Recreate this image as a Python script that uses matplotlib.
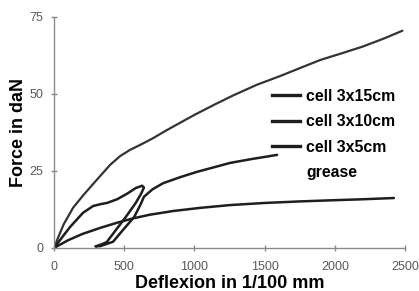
import matplotlib
matplotlib.use('Agg')
import matplotlib.pyplot as plt
from matplotlib.lines import Line2D

plt.rcParams['font.family'] = ['Liberation Sans', 'DejaVu Sans']

# =============================================================================
# values (deflexion in 1/100 mm, force in daN)
# =============================================================================

x_top = [0, 30, 70, 135, 206, 306, 400, 470, 540, 620, 700, 805, 1000, 1150,
         1275, 1446, 1610, 1752, 1895, 2050, 2200, 2350, 2480]
y_top = [0, 3.5, 7.8, 13, 17, 22.2, 27, 29.8, 31.8, 33.6, 35.5, 38.3, 43.2, 46.7,
         49.5, 53, 55.8, 58.4, 61, 63.2, 65.4, 68, 70.5]

x_loop = [0, 60, 114, 206, 278, 330, 377, 449, 520, 580, 627, 640, 620, 580, 510,
          440, 375, 340, 295, 330, 420, 490, 570, 615, 640, 700, 776, 900, 1018,
          1254, 1400, 1588]
y_loop = [0, 3.6, 6.8, 11.4, 13.6, 14.2, 14.6, 15.8, 17.6, 19.4, 20.2, 19.6, 17.6, 14.5, 10,
          5.8, 1.9, 1.2, 0.5, 0.6, 2, 5.8, 10, 14, 16.6, 19, 21, 23, 24.7,
          27.6, 28.8, 30.2]

x_low = [0, 100, 200, 328, 450, 563, 684, 850, 1040, 1250, 1500, 1750, 2000, 2200, 2420]
y_low = [0, 2.5, 4.5, 6.5, 8.2, 9.6, 10.8, 12, 13, 13.9, 14.6, 15.1, 15.5, 15.8, 16.2]

legend_labels = ['cell 3x15cm', 'cell 3x10cm', 'cell 3x5cm', 'grease']

xticks = [0, 500, 1000, 1500, 2000, 2500]
yticks = [0, 25, 50, 75]

# =============================================================================
# plot
# =============================================================================

fig = plt.figure(figsize=(4.19, 2.91), dpi=100)
ax = fig.add_axes([0.129, 0.148, 0.838, 0.794])

line_kw = dict(color='#1e1e1e', lw=1.8, solid_capstyle='round', solid_joinstyle='round')
ax.plot(x_top, y_top, **dict(line_kw, color='#333333', lw=1.6))
ax.plot(x_loop, y_loop, **line_kw)
ax.plot(x_low, y_low, **line_kw)

ax.set_xlim(0, 2500)
ax.set_ylim(0, 75)
ax.set_xticks(xticks)
ax.set_yticks(yticks)

for side in ['top', 'right']:
    ax.spines[side].set_visible(False)
for side in ['left', 'bottom']:
    ax.spines[side].set_color('#8a8a8a')
    ax.spines[side].set_linewidth(1.0)

ax.tick_params(direction='inout', length=5, width=1, color='#8a8a8a',
               labelsize=9, labelcolor='#5a5a5a')
ax.tick_params(axis='x', pad=7)
ax.tick_params(axis='y', pad=5)

ax.set_xlabel('Deflexion in 1/100 mm', fontsize=13, fontweight='bold', labelpad=1.5)
ax.set_ylabel('Force in daN', fontsize=13, fontweight='bold', labelpad=2)

handles = [Line2D([], [], color='#1e1e1e', lw=2.4) for _ in range(3)]
handles.append(Line2D([], [], color='none'))
ax.legend(handles, legend_labels, loc='upper left', bbox_to_anchor=(0.621, 0.688),
          frameon=False, borderpad=0, borderaxespad=0, handlelength=1.75,
          handletextpad=0.4, labelspacing=0.66,
          prop={'size': 11.4, 'weight': 'bold'})

fig.savefig('out.png', dpi=100)
